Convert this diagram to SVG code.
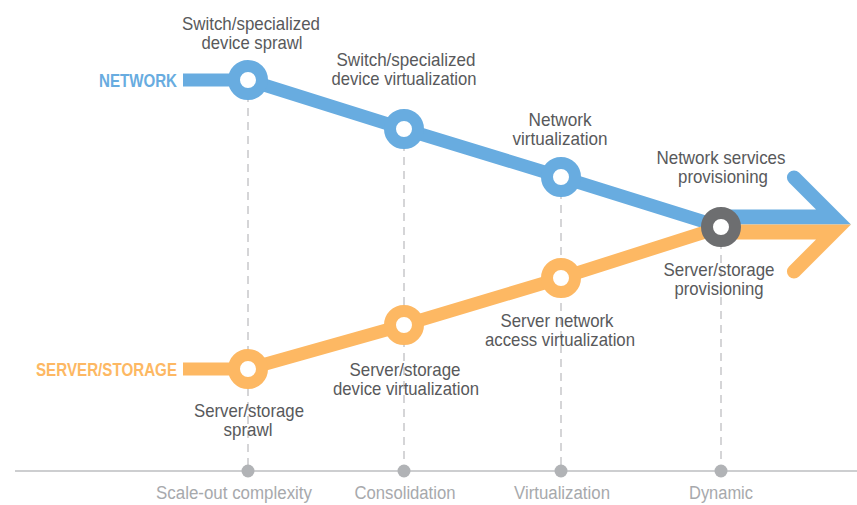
<svg xmlns="http://www.w3.org/2000/svg" width="857" height="505" viewBox="0 0 857 505">
<style>
.lbl{font-family:"Liberation Sans",Arial,sans-serif;font-size:18.5px;fill:#58595b;text-anchor:middle}
.ax{font-family:"Liberation Sans",Arial,sans-serif;font-size:18px;fill:#a7a9ac;text-anchor:middle}
.ser{font-family:"Liberation Sans",Arial,sans-serif;font-size:19px;font-weight:bold;text-anchor:end}
.dash{stroke:#c7c8ca;stroke-width:1.5;stroke-dasharray:8 6;fill:none}
.blue{stroke:#68ace0;stroke-width:13;fill:none;stroke-linejoin:round}
.orange{stroke:#fdb863;stroke-width:13;fill:none;stroke-linejoin:round}
.ringb{fill:#fff;stroke:#68ace0;stroke-width:12}
.ringo{fill:#fff;stroke:#fdb863;stroke-width:12}
.ringg{fill:#fff;stroke:#6d6e70;stroke-width:12}
.dot{fill:#b1b3b6}
</style>
<rect width="857" height="505" fill="#fff"/>
<g id="axis">
<line x1="15" y1="471" x2="857" y2="471" stroke="#bcbec0" stroke-width="1.5"/>
<line class="dash" x1="248" y1="80" x2="248" y2="471"/>
<line class="dash" x1="404" y1="129" x2="404" y2="471"/>
<line class="dash" x1="561" y1="177" x2="561" y2="471"/>
<line class="dash" x1="721" y1="227" x2="721" y2="471"/>
<circle class="dot" cx="248" cy="471" r="6.5"/>
<circle class="dot" cx="404" cy="471" r="6.5"/>
<circle class="dot" cx="561" cy="471" r="6.5"/>
<circle class="dot" cx="721" cy="471" r="6.5"/>
<text class="ax" x="234" y="499" textLength="156" lengthAdjust="spacingAndGlyphs">Scale-out complexity</text>
<text class="ax" x="405" y="499" textLength="101" lengthAdjust="spacingAndGlyphs">Consolidation</text>
<text class="ax" x="562" y="499" textLength="96" lengthAdjust="spacingAndGlyphs">Virtualization</text>
<text class="ax" x="721" y="499" textLength="64" lengthAdjust="spacingAndGlyphs">Dynamic</text>
</g>
<g id="connectors">
<polyline class="blue" points="183,80 248,80 404,129 561,177 721,227"/>
<polyline class="orange" points="183,369 248,369 404,325 561,278 721,227"/>
<path fill="#68ace0" d="M721,209.5 L816,209.5 L789,182.5 A7,7 0 0 1 799,172.5 L851,224.5 L721,224.5 Z"/>
<path fill="#fdb863" d="M721,239.5 L816,239.5 L789,266.5 A7,7 0 0 0 799,276.5 L851,224.5 L721,224.5 Z"/>
</g>
<g id="series-network"><text class="ser" x="177" y="87" fill="#68ace0" textLength="78" lengthAdjust="spacingAndGlyphs">NETWORK</text></g>
<g id="series-server"><text class="ser" x="177" y="376" fill="#fdb863" textLength="141" lengthAdjust="spacingAndGlyphs">SERVER/STORAGE</text></g>
<g id="n1"><circle class="ringb" cx="248" cy="80" r="14"/>
<text class="lbl" x="251" y="30" textLength="138" lengthAdjust="spacingAndGlyphs">Switch/specialized</text>
<text class="lbl" x="252" y="49" textLength="101" lengthAdjust="spacingAndGlyphs">device sprawl</text></g>
<g id="n2"><circle class="ringb" cx="404" cy="129" r="14"/>
<text class="lbl" x="406" y="66" textLength="139" lengthAdjust="spacingAndGlyphs">Switch/specialized</text>
<text class="lbl" x="404" y="85" textLength="145" lengthAdjust="spacingAndGlyphs">device virtualization</text></g>
<g id="n3"><circle class="ringb" cx="561" cy="177" r="14"/>
<text class="lbl" x="560" y="126" textLength="63" lengthAdjust="spacingAndGlyphs">Network</text>
<text class="lbl" x="560" y="145" textLength="95" lengthAdjust="spacingAndGlyphs">virtualization</text></g>
<g id="n4"><circle class="ringg" cx="721" cy="227" r="14"/>
<text class="lbl" x="721" y="164" textLength="129" lengthAdjust="spacingAndGlyphs">Network services</text>
<text class="lbl" x="723" y="183" textLength="90" lengthAdjust="spacingAndGlyphs">provisioning</text>
<text class="lbl" x="719" y="276" textLength="111" lengthAdjust="spacingAndGlyphs">Server/storage</text>
<text class="lbl" x="719" y="295" textLength="89" lengthAdjust="spacingAndGlyphs">provisioning</text></g>
<g id="o1"><circle class="ringo" cx="248" cy="369" r="14"/>
<text class="lbl" x="249" y="417" textLength="110" lengthAdjust="spacingAndGlyphs">Server/storage</text>
<text class="lbl" x="248" y="436" textLength="49" lengthAdjust="spacingAndGlyphs">sprawl</text></g>
<g id="o2"><circle class="ringo" cx="404" cy="325" r="14"/>
<text class="lbl" x="405" y="376" textLength="111" lengthAdjust="spacingAndGlyphs">Server/storage</text>
<text class="lbl" x="406" y="395" textLength="146" lengthAdjust="spacingAndGlyphs">device virtualization</text></g>
<g id="o3"><circle class="ringo" cx="561" cy="278" r="14"/>
<text class="lbl" x="557" y="327" textLength="113" lengthAdjust="spacingAndGlyphs">Server network</text>
<text class="lbl" x="560" y="346" textLength="150" lengthAdjust="spacingAndGlyphs">access virtualization</text></g>
</svg>
